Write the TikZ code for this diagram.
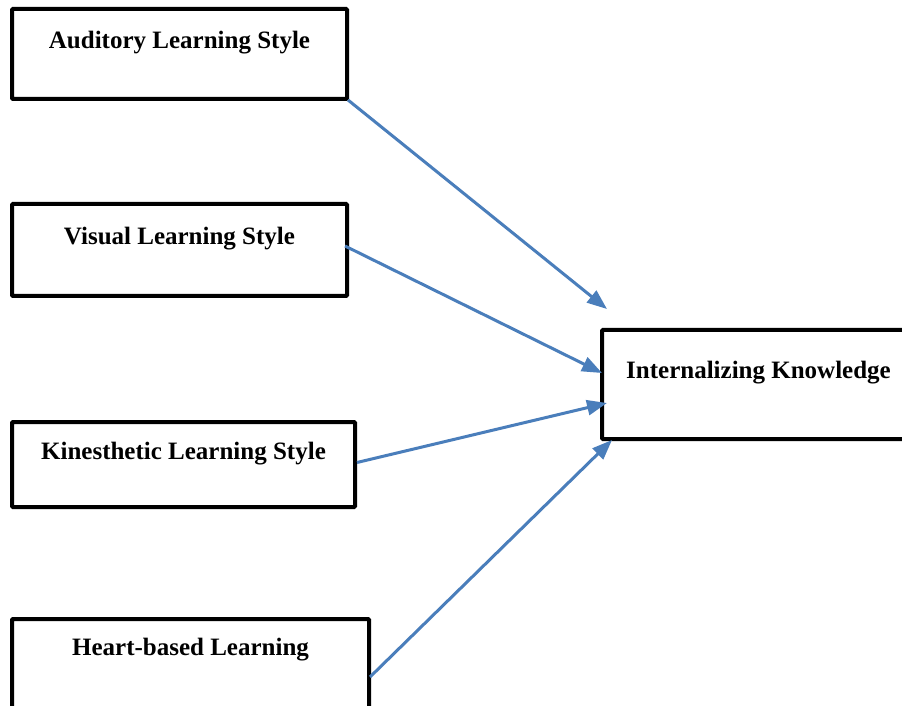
\documentclass[tikz,border=0pt]{standalone}
\usepackage{fontspec}
\setmainfont{Liberation Serif}
\usetikzlibrary{arrows.meta,calc}
\definecolor{linkblue}{RGB}{74,126,187}
\begin{document}
\begin{tikzpicture}[x=1pt,y=1pt,
  box/.style={draw=black, line width=4pt, rounded corners=1pt, inner xsep=0pt, inner ysep=0pt, outer sep=0pt,
    anchor=north west, font=\fontsize{25}{28}\selectfont\bfseries, fill=white},
  link/.style={draw=linkblue, line width=3pt, -{Triangle[length=20pt,width=15pt]}}]
\fill[white] (0,0) rectangle (902,705);
\clip (0,0) rectangle (902,705);
% boxes: text height = top-to-baseline, text depth = baseline-to-bottom
\node[box, minimum width=335pt, text height=40pt, text depth=50pt] (aud) at (12,696) {Auditory Learning Style};
\node[box, minimum width=335pt, text height=41pt, text depth=51pt] (vis) at (12,501) {Visual Learning Style};
\node[box, minimum width=343pt, text height=37pt, text depth=48pt] (kin) at (12,283) {Kinesthetic Learning Style};
\node[box, minimum width=357pt, text height=36pt, text depth=80pt] (hrt) at (12,86) {Heart-based Learning};
\node[box, minimum width=313pt, text height=49pt, text depth=60pt] (int) at (602,375) {Internalizing Knowledge};
% arrow tips
\coordinate (t1) at ($(int.north west)+(5,21)$);
\coordinate (t2) at ($(int.north west)+(0,-43)$);
\coordinate (t3) at ($(int.north west)+(5,-73)$);
\coordinate (t4) at ($(int.south west)+(10,-1)$);
\draw[link] ($(aud.south east)+(1,-1)$) -- (t1);
\draw[link] ($(vis.east)+(-2,4)$) -- (t2);
\draw[link] ($(kin.east)+(2,2)$) -- (t3);
\draw[link] ($(hrt.north east)+(1,-58)$) -- (t4);
\end{tikzpicture}
\end{document}
